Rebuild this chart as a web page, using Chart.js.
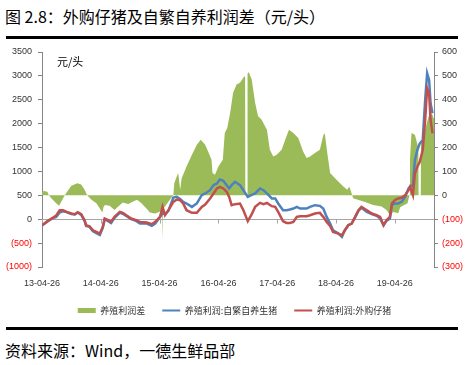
<!DOCTYPE html>
<html>
<head>
<meta charset="utf-8">
<script src="https://cdn.jsdelivr.net/npm/chart.js@4.4.1/dist/chart.umd.min.js"></script>
<style>
  body { margin: 0; width: 469px; height: 365px; background: #fff; position: relative; overflow: hidden;
         font-family: "Noto Sans CJK SC", sans-serif; }
  #title { position: absolute; left: 5px; top: 5px; font-size: 16px; line-height: 22px; color: #000; white-space: nowrap; }
  .rule { position: absolute; left: 6px; width: 452px; height: 3px; background: #000; }
  #foot { position: absolute; left: 5px; top: 339px; font-size: 16px; line-height: 22px; color: #000; white-space: nowrap; }
  #wrap { position: absolute; left: 0; top: 40px; width: 469px; height: 285px; }
</style>
</head>
<body>
<div id="title">图 2.8：外购仔猪及自繁自养利润差（元/头）</div>
<div class="rule" style="top:36px"></div>
<div id="wrap"><canvas id="chart" width="469" height="285"></canvas></div>
<div class="rule" style="top:327px"></div>
<div id="foot">资料来源：Wind，一德生鲜品部</div>
<script>
// x is months since 2013-04-26
const xTickMonths = [0, 12, 24, 36, 48, 60, 72];
const xTickLabels = ['13-04-26', '14-04-26', '15-04-26', '16-04-26', '17-04-26', '18-04-26', '19-04-26'];

// profit lines (left axis, 元/头)
const lineMonths = [0, 1.2, 2.2, 2.9, 3.6, 4.3, 5.0, 6.0, 6.7, 7.3, 8.0, 8.7, 9.0, 9.7, 10.4, 11.1, 11.8, 12.4, 12.8, 13.5,
  14.1, 14.8, 15.9, 16.5, 17.2, 18.2, 19.2, 20.0, 21.4, 22.4, 23.1, 24.1, 24.6, 25.1, 25.8, 26.8, 27.5, 28.2, 28.8, 29.5,
  30.6, 31.6, 32.6, 33.3, 34.3, 35.0, 35.7, 36.3, 37.0, 37.7, 38.2, 38.7, 39.4, 40.4, 41.1, 42.0, 42.7, 43.5, 44.5, 45.2,
  45.9, 46.9, 47.6, 48.2, 49.2, 49.9, 50.6, 51.3, 52.0, 52.7, 54.0, 54.7, 55.7, 56.7, 57.4, 58.1, 58.8, 59.4, 60.5, 61.2,
  61.8, 62.5, 63.2, 63.9, 64.6, 65.2, 66.3, 67.3, 68.3, 69.0, 69.7, 70.3, 71.0, 71.4, 72.0, 72.7, 73.4, 74.1, 74.8, 75.1,
  75.7, 76.1, 76.6, 77.1, 77.7, 78.2, 78.6, 79.0, 79.3, 79.7];
const ownProfit = [-130, -40, 25, 50, 140, 168, 150, 110, 100, 140, 90, -40, -140, -160, -250, -290, -330, -180, 0, -40,
  -80, 30, 140, 115, 70, 0, -35, -91, -91, -140, -91, 49, 126, 105, 175, 455, 468, 426, 363, 329,
  258, 329, 504, 539, 608, 713, 748, 833, 804, 713, 644, 713, 783, 713, 608, 468, 504, 539, 644, 608,
  539, 434, 434, 329, 189, 189, 203, 224, 258, 224, 224, 258, 294, 280, 224, 49, -91, -231, -301, -371,
  -231, -126, -91, 40, 180, 240, 154, 105, 70, 14, -126, -35, 14, 294, 329, 329, 363, 468, 644, 678,
  713, 1238, 1448, 1588, 1657, 2497, 3057, 2917, 2427, 2217];
const buyProfit = [-125, -35, 28, 77, 189, 189, 154, 119, 105, 147, 105, -21, -126, -147, -231, -266, -301, -161, 14, -21,
  -56, 49, 154, 133, 84, 14, -21, -56, -70, -105, -56, 49, 258, 84, 189, 363, 413, 399, 329, 189,
  133, 133, 258, 308, 434, 537, 644, 678, 644, 573, 468, 294, 315, 329, 189, -42, 84, 258, 342, 315,
  342, 273, 258, 154, -42, -77, -77, -56, 49, 63, 63, 84, 119, 133, 49, -56, -140, -266, -301, -336,
  -231, -126, -91, 49, 189, 258, 189, 119, 84, 49, -126, -21, 49, 329, 399, 434, 448, 503, 608, 678,
  503, 958, 1097, 1202, 1448, 2077, 2742, 2637, 2077, 1798];

// profit difference (right axis)
const diffMonths = [0, 0.4, 1.1, 1.4, 1.9, 2.9, 3.5, 4.3, 5.0, 6.0, 7.2, 8.0, 8.7, 9.2, 10.1, 11.1, 11.8, 12.3, 12.55, 12.8,
  13.8, 14.8, 15.5, 16.5, 17.6, 18.6, 19.4, 20.3, 21.6, 22.0, 23.1, 24.1, 24.5, 24.6, 24.7, 25.1, 26.1, 26.8, 27.0, 27.5,
  27.8, 28.2, 28.5, 29.5, 30.6, 31.6, 32.4, 33.3, 33.9, 34.6, 34.8, 35.3, 36.0, 36.9, 37.3, 37.8, 38.4, 39.0, 39.7, 40.4,
  41.3, 41.45, 41.5, 41.9, 41.95, 42.2, 42.8, 43.5, 44.1, 44.8, 45.9, 46.5, 47.2, 47.9, 48.9, 49.9, 50.4, 51.3, 52.3, 53.3,
  54.0, 54.7, 55.7, 56.7, 57.4, 57.7, 58.2, 58.8, 60.1, 61.5, 62.3, 62.7, 63.0, 63.3, 63.5, 65.6, 67.6, 69.3, 70.3, 71.0,
  71.7, 72.7, 73.1, 74.6, 75.0, 75.1, 75.4, 76.1, 76.6, 76.8, 76.85, 77.3, 77.35, 78.2, 78.9, 79.6, 80];
const diffValues = [15, 18, 15, 0, -12, -33, -44, -12, 12, 40, 51, 45, 23, 0, -19, -33, -55, -72, -50, -40,
  -44, -61, -48, -30, -36, -26, -19, -33, -61, -72, -76, -68, -60, -187, -55, -47, -19, 0, 51, 79,
  93, 23, 72, 121, 170, 212, 233, 212, 184, 149, 93, 86, 121, 149, 261, 282, 345, 429, 464, 471,
  498, 495, 0, 0, 510, 515, 485, 387, 331, 317, 275, 191, 163, 170, 191, 247, 275, 261, 240, 184,
  156, 163, 177, 191, 250, 261, 180, 93, 65, 37, 23, 37, 20, 0, -12, -26, -40, -47, -61, -82,
  -70, -75, -50, -33, 0, 150, 261, 254, 215, 200, 0, 0, 219, 275, 331, 340, 320];

const pairs = (xs, ys) => xs.map((x, i) => ({ x: x, y: ys[i] }));
const numFont = { family: '"Liberation Sans", Arial, sans-serif', size: 9 };
const cjkFont = { family: '"Noto Sans CJK SC", sans-serif', size: 9 };
const tickColor = c => c.tick.value < 0 ? '#FF0000' : '#333';
const paren = v => v < 0 ? '(' + (-v) + ')' : String(v);

// zero line of the left axis plus the unit label
const zeroLine = {
  id: 'zeroLine',
  beforeDatasetsDraw(chart) {
    const { ctx, chartArea, scales } = chart;
    const y0 = Math.round(scales.y.getPixelForValue(0)) + 0.5;
    ctx.save();
    ctx.strokeStyle = '#a6a6a6';
    ctx.lineWidth = 1;
    ctx.beginPath();
    ctx.moveTo(chartArea.left, y0);
    ctx.lineTo(chartArea.right, y0);
    xTickMonths.forEach(m => {
      const x = Math.round(scales.x.getPixelForValue(m)) + 0.5;
      ctx.moveTo(x, y0);
      ctx.lineTo(x, y0 + 4);
    });
    ctx.stroke();
    ctx.fillStyle = '#000';
    ctx.font = '11px "Noto Sans CJK SC"';
    ctx.textBaseline = 'middle';
    ctx.fillText('元/头', chartArea.left + 15, chartArea.top + 10);
    ctx.restore();
  }
};

new Chart(document.getElementById('chart'), {
  type: 'line',
  data: {
    datasets: [{
      label: '养殖利润差',
      data: pairs(diffMonths, diffValues),
      yAxisID: 'y1',
      fill: 'origin',
      backgroundColor: '#9BBB59',
      borderColor: '#9BBB59',
      borderWidth: 0,
      pointRadius: 0,
      tension: 0,
      order: 2,
      legendStyle: 'rect'
    }, {
      label: '养殖利润:自繁自养生猪',
      data: pairs(lineMonths, ownProfit),
      yAxisID: 'y',
      fill: false,
      borderColor: '#4F81BD',
      backgroundColor: '#4F81BD',
      borderWidth: 2.5,
      pointRadius: 0,
      tension: 0,
      order: 1,
      legendStyle: 'line'
    }, {
      label: '养殖利润:外购仔猪',
      data: pairs(lineMonths, buyProfit),
      yAxisID: 'y',
      fill: false,
      borderColor: '#C0504D',
      backgroundColor: '#C0504D',
      borderWidth: 2.5,
      pointRadius: 0,
      tension: 0,
      order: 0,
      legendStyle: 'line'
    }]
  },
  options: {
    responsive: false,
    animation: false,
    devicePixelRatio: 1,
    layout: { padding: { top: 12, left: 0, right: 0, bottom: 0 } },
    plugins: {
      tooltip: { enabled: false },
      legend: {
        position: 'bottom',
        labels: {
          usePointStyle: true,
          pointStyleWidth: 18,
          boxHeight: 5,
          padding: 17,
          color: '#333',
          font: cjkFont,
          sort: (a, b) => a.datasetIndex - b.datasetIndex,
          generateLabels(chart) {
            const items = Chart.defaults.plugins.legend.labels.generateLabels(chart);
            items.forEach(it => {
              const ds = chart.data.datasets[it.datasetIndex];
              it.pointStyle = ds.legendStyle;
              it.fillStyle = ds.borderColor;
              it.strokeStyle = ds.borderColor;
              it.lineWidth = ds.legendStyle === 'line' ? 2 : 0;
            });
            return items;
          }
        }
      }
    },
    scales: {
      x: {
        type: 'linear',
        min: 0,
        max: 80,
        grid: { display: false, drawTicks: false },
        border: { display: false },
        afterBuildTicks: s => { s.ticks = xTickMonths.map(v => ({ value: v })); },
        afterFit: s => { s.height = 22; },
        ticks: {
          padding: 11,
          maxRotation: 0,
          autoSkip: false,
          color: '#333',
          font: numFont,
          callback: v => xTickLabels[xTickMonths.indexOf(v)]
        }
      },
      y: {
        position: 'left',
        min: -1000,
        max: 3500,
        grid: { drawOnChartArea: false, drawTicks: true, tickLength: 4, color: '#868686' },
        border: { display: true, color: '#868686' },
        afterFit: s => { s.width = 42; },
        ticks: { stepSize: 500, padding: 6, color: tickColor, font: numFont, callback: paren }
      },
      y1: {
        position: 'right',
        min: -300,
        max: 600,
        grid: { drawOnChartArea: false, drawTicks: true, tickLength: 4, color: '#868686' },
        border: { display: true, color: '#868686' },
        afterFit: s => { s.width = 35; },
        ticks: { stepSize: 100, padding: 4, color: tickColor, font: numFont, callback: paren }
      }
    }
  },
  plugins: [zeroLine]
});
</script>
</body>
</html>
